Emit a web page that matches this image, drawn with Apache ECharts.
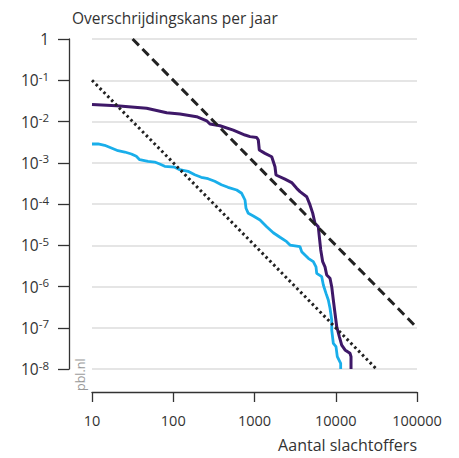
<!DOCTYPE html>
<html>
<head>
<meta charset="utf-8">
<script src="https://cdn.jsdelivr.net/npm/echarts@6/dist/echarts.min.js"></script>
<style>
  html, body { margin: 0; padding: 0; background: #fff; }
  #chart { width: 459px; height: 458px; }
</style>
</head>
<body>
<div id="chart"></div>
<script>
// x-as: aantal slachtoffers, y-as: overschrijdingskans per jaar
const xTicks = [10, 100, 1000, 10000, 100000];
const yTicks = [1e-8, 1e-7, 1e-6, 1e-5, 1e-4, 1e-3, 1e-2, 1e-1, 1];

// paarse curve
const purpleCurve = [
  [10, 2.6e-2], [20, 2.4e-2], [47, 2.1e-2], [83, 1.63e-2], [121, 1.52e-2],
  [194, 1.31e-2], [258, 1.04e-2], [283, 8.7e-3], [376, 7.9e-3], [548, 6.2e-3],
  [764, 4.7e-3], [881, 4.3e-3], [1065, 4.1e-3], [1114, 3.56e-3], [1146, 2.04e-3],
  [1346, 1.69e-3], [1629, 1.4e-3], [1787, 8.0e-4], [1839, 5.05e-4], [2372, 4.0e-4],
  [2869, 3.3e-4], [3305, 2.4e-4], [3631, 2.0e-4], [4393, 1.5e-4], [4822, 9.5e-5],
  [5203, 6.0e-5], [5555, 3.4e-5], [6100, 2.8e-5], [6281, 1.6e-5], [6535, 7.7e-6],
  [6905, 4.0e-6], [7374, 3.0e-6], [7740, 1.9e-6], [8497, 1.58e-6], [8920, 9.9e-7],
  [9334, 4.7e-7], [9790, 2.24e-7], [10280, 1.06e-7], [11070, 6.1e-8], [11840, 3.8e-8],
  [13000, 2.9e-8], [14970, 2.4e-8], [15410, 2.0e-8], [15410, 1e-8]
];

// lichtblauwe curve
const blueCurve = [
  [10, 2.85e-3], [11.9, 2.85e-3], [14.3, 2.65e-3], [17.3, 2.28e-3], [20.9, 1.96e-3],
  [25.3, 1.82e-3], [30.5, 1.63e-3], [35.1, 1.43e-3], [38.6, 1.19e-3], [48.9, 1.08e-3],
  [59.1, 1.04e-3], [68.1, 9.3e-4], [78.5, 8.2e-4], [104, 7.8e-4], [120, 6.8e-4],
  [152, 6.2e-4], [184, 5.1e-4], [221, 4.44e-4], [268, 4.1e-4], [324, 3.55e-4],
  [391, 2.94e-4], [472, 2.54e-4], [604, 2.18e-4], [695, 1.82e-4], [764, 1.25e-4],
  [786, 7.9e-5], [839, 5.95e-5], [967, 5.1e-5], [1169, 4.1e-5], [1413, 2.82e-5],
  [1703, 2.01e-5], [2059, 1.56e-5], [2489, 1.22e-5], [2734, 1.01e-5], [3631, 9.2e-6],
  [3808, 7.0e-6], [4593, 4.83e-6], [5292, 4.0e-6], [5714, 3.0e-6], [5830, 2.09e-6],
  [6718, 1.73e-6], [7034, 1.09e-6], [7590, 6.8e-7], [8100, 4.7e-7], [8497, 2.96e-7],
  [8920, 1.54e-7], [8920, 8.8e-8], [9334, 4.2e-8], [10070, 3.5e-8], [10450, 2.0e-8],
  [11500, 1.37e-8], [11500, 1e-8]
];

// normlijnen
const dashedLine = [[31.6, 1], [100000, 1e-7]];
const dottedLine = [[10, 1e-1], [31623, 1e-8]];

const fontFamily = "'Open Sans', 'Noto Sans', sans-serif";
const textColor = "#333";

const chart = echarts.init(document.getElementById("chart"), null, { renderer: "svg" });

const option = {
  animation: false,
  textStyle: { fontFamily: fontFamily },
  title: {
    text: "Overschrijdingskans per jaar",
    left: 67,
    top: 5,
    textStyle: { fontSize: 15.5, fontWeight: "normal", color: textColor, fontFamily: fontFamily },
  },
  graphic: [
    {
      type: "text",
      right: 42,
      top: 437,
      style: { text: "Aantal slachtoffers", fontSize: 16, fill: textColor, fontFamily: fontFamily },
    },
    {
      type: "text",
      x: 74,
      y: 391,
      rotation: Math.PI / 2,
      style: { text: "pbl.nl", fontSize: 12.5, fill: "#999", fontFamily: fontFamily },
    },
  ],
  grid: { left: 92, right: 42, top: 39, bottom: 89 },
  xAxis: {
    type: "log",
    logBase: 10,
    min: xTicks[0],
    max: xTicks[xTicks.length - 1],
    offset: 23,
    axisLine: { show: true, lineStyle: { color: "#333", width: 1.3 } },
    axisTick: { show: true, length: 10, lineStyle: { color: "#333", width: 1.3 } },
    axisLabel: { margin: 21, fontSize: 14.5, color: textColor, formatter: (v) => String(Math.round(v)) },
    splitLine: { show: false },
  },
  yAxis: {
    type: "log",
    logBase: 10,
    min: yTicks[0],
    max: yTicks[yTicks.length - 1],
    offset: 23,
    axisLine: { show: true, lineStyle: { color: "#333", width: 1.3 } },
    axisTick: { show: true, length: 11, lineStyle: { color: "#333", width: 1.3 } },
    axisLabel: {
      margin: 20,
      fontSize: 15.5,
      color: textColor,
      formatter: (v) => {
        const e = Math.round(Math.log10(v));
        return e === 0 ? "1" : "10{s|" + e + "}";
      },
      rich: {
        s: { fontSize: 11.5, color: textColor, padding: [0, 0, 8, 0] },
      },
    },
    splitLine: { show: true, lineStyle: { color: "#dcdcdc", width: 1.5 } },
  },
  series: [
    {
      type: "line",
      data: blueCurve,
      showSymbol: false,
      lineStyle: { color: "#19aeea", width: 2.8 },
      z: 2,
    },
    {
      type: "line",
      data: purpleCurve,
      showSymbol: false,
      lineStyle: { color: "#3e1868", width: 3 },
      z: 3,
    },
    {
      type: "line",
      data: dashedLine,
      showSymbol: false,
      lineStyle: { color: "#222", width: 3, type: [9, 5] },
      z: 4,
    },
    {
      type: "line",
      data: dottedLine,
      showSymbol: false,
      lineStyle: { color: "#222", width: 3, type: [2.5, 3] },
      z: 4,
    },
  ],
};

chart.setOption(option);
</script>
</body>
</html>
